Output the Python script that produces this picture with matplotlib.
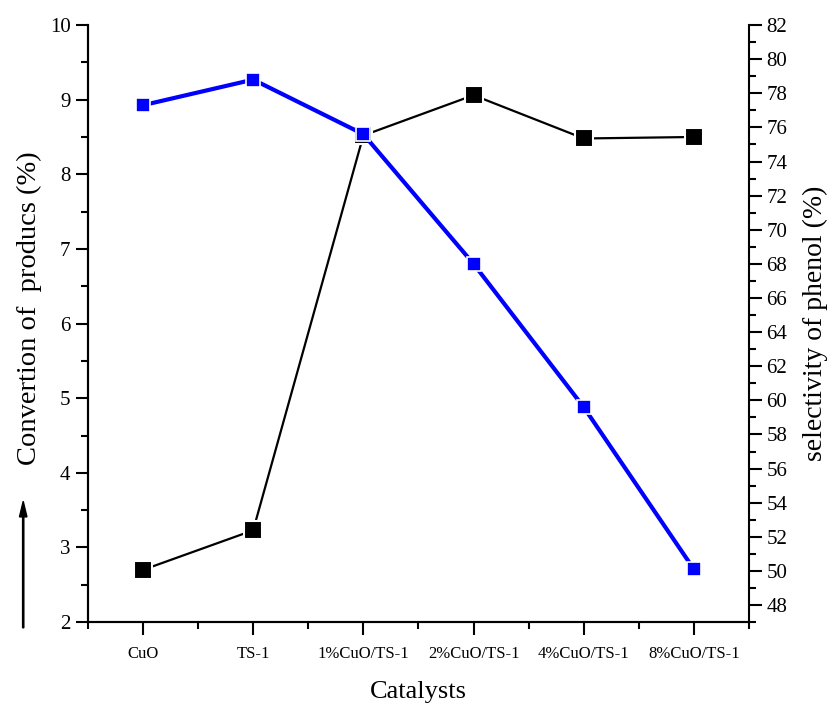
import matplotlib
matplotlib.use("Agg")
import matplotlib.pyplot as plt
from matplotlib.ticker import MultipleLocator

plt.rcParams['font.family'] = ['Liberation Serif', 'DejaVu Serif']

catalysts = ["CuO", "TS-1", "1%CuO/TS-1", "2%CuO/TS-1", "4%CuO/TS-1", "8%CuO/TS-1"]
conversion = [2.70, 3.23, 8.52, 9.06, 8.48, 8.50]
selectivity = [77.3, 78.8, 75.6, 68.0, 59.6, 50.1]

x = list(range(len(catalysts)))

fig = plt.figure(figsize=(8.29, 7.11), dpi=100)
ax = fig.add_axes([0.106, 0.125, 0.7975, 0.8398])
ax2 = ax.twinx()

# conversion (left axis)
ax.plot(x, conversion, color="black", linewidth=1.6, marker="s", markersize=13,
        markeredgecolor="white", markeredgewidth=1.5, zorder=3)

# selectivity (right axis)
ax2.plot(x, selectivity, color="blue", linewidth=3, marker="s", markersize=10,
         markeredgecolor="white", markeredgewidth=1.2, zorder=3)

ax.set_xlim(-0.5, 5.5)
ax.set_ylim(2, 10)
ax2.set_ylim(47, 82)

ax.set_xticks(x)
ax.set_xticklabels(catalysts, fontsize=12)
ax.set_xticks([i + 0.5 for i in range(-1, 6)], minor=True)

ax.yaxis.set_major_locator(MultipleLocator(1))
ax.yaxis.set_minor_locator(MultipleLocator(0.5))
ax2.set_yticks(range(48, 83, 2))
ax2.yaxis.set_minor_locator(MultipleLocator(1))

for a in (ax, ax2):
    a.spines['top'].set_visible(False)
    for s in a.spines.values():
        s.set_linewidth(1.5)
ax.spines['right'].set_visible(False)

ax.tick_params(axis='both', which='major', direction='out', length=9, width=1.5, labelsize=15)
ax.tick_params(axis='both', which='minor', direction='out', length=5, width=1.5)
ax.tick_params(axis='x', which='major', labelsize=12, pad=8)
ax2.tick_params(axis='y', which='major', direction='out', length=9, width=1.5, labelsize=15)
ax2.tick_params(axis='y', which='minor', direction='out', length=5, width=1.5)

ax.set_xlabel("Catalysts", fontsize=19, labelpad=14)
ax2.set_ylabel("selectivity of phenol (%)", fontsize=20, labelpad=11)

fig.text(0.035, 0.567, "Convertion of  producs (%)", rotation=90, fontsize=20.5,
         ha='center', va='center')
fig.patches.append(matplotlib.patches.FancyArrow(
    0.028, 0.117, 0, 0.178, width=0.0015, head_width=0.009, head_length=0.022,
    color="black", transform=fig.transFigure, length_includes_head=True))

plt.savefig("out.png", dpi=100)
